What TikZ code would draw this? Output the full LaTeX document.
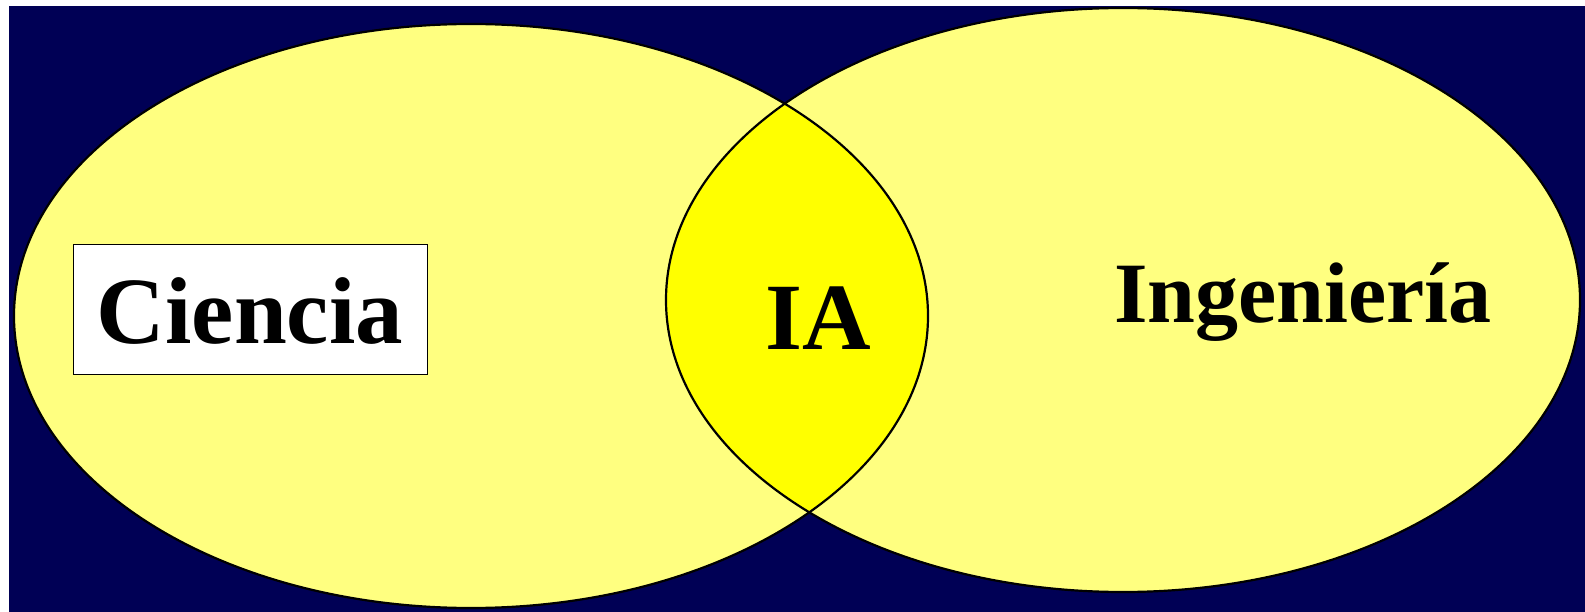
\documentclass[tikz,border=0pt]{standalone}
\usepackage{fontspec}
\setmainfont{Liberation Serif}
\definecolor{navy}{RGB}{0,0,85}
\definecolor{paleyellow}{RGB}{255,255,128}
\definecolor{brightyellow}{RGB}{255,255,0}
\begin{document}
\begin{tikzpicture}[x=1pt,y=-1pt,
  outline/.style={draw=black,line width=2.2pt},
  bigtext/.style={font=\fontsize{95}{95}\selectfont\bfseries,inner sep=0pt,anchor=base},
  labelbox/.style={draw=black,line width=1pt,fill=white,inner sep=0pt,minimum width=354pt,minimum height=129pt}]
\useasboundingbox (0,0) rectangle (1585,612);
\fill[white] (0,0) rectangle (1585,612);
\fill[navy] (9,6) rectangle (1585,612);
% ellipses
\coordinate (cl) at (471,316);
\coordinate (cr) at (1123,300);
\fill[paleyellow] (cl) ellipse [x radius=457, y radius=292];
\fill[paleyellow] (cr) ellipse [x radius=457, y radius=292];
\begin{scope}
  \clip (cl) ellipse [x radius=457, y radius=292];
  \fill[brightyellow] (cr) ellipse [x radius=457, y radius=292];
\end{scope}
\draw[outline] (cl) ellipse [x radius=457, y radius=292];
\draw[outline] (cr) ellipse [x radius=457, y radius=292];
% labels
\node[labelbox] (box) at (250,309.5) {};
\node[bigtext] (ciencia) at (250,343) {Ciencia};
\node[bigtext] (ia) at (818,349) {IA};
\node[bigtext,font=\fontsize{86}{86}\selectfont\bfseries] (ing) at (1303,323) {Ingeniería};
\end{tikzpicture}
\end{document}
